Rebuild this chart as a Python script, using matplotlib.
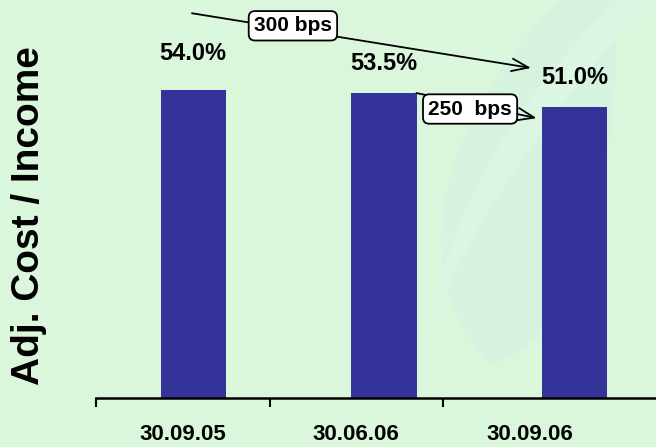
import numpy as np
import matplotlib
matplotlib.use("Agg")
import matplotlib.pyplot as plt
from matplotlib.patches import PathPatch
from matplotlib.path import Path

plt.rcParams['font.family'] = ['Liberation Sans', 'DejaVu Sans']
plt.rcParams['font.weight'] = 'bold'

# cost / income ratio per reporting date
dates = ["30.09.05", "30.06.06", "30.09.06"]
ratio = [54.0, 53.5, 51.0]
ratio_labels = ["54.0%", "53.5%", "51.0%"]
label_lift = [18, 13, 13]   # points above each bar

W, H = 656, 447
bg = "#daf7dc"
bar_col = "#333399"

fig = plt.figure(figsize=(W / 100, H / 100), dpi=100, facecolor=bg)


def px(x, y):
    # pixel position (from top-left) -> figure fraction
    return x / W, 1 - y / H


# faint leaf shape in the background
def leaf(points, codes, color):
    verts = [px(*p) for p in points]
    patch = PathPatch(Path(verts, codes), transform=fig.transFigure,
                      facecolor=color, edgecolor='none', zorder=-2)
    fig.patches.append(patch)


C = Path.CURVE4
leaf([(560, 0), (450, 110), (395, 260), (490, 365),
      (570, 340), (615, 230), (618, 0), (560, 0)],
     [Path.MOVETO, C, C, C, C, C, C, Path.CLOSEPOLY], "#d6f3e0")
leaf([(620, 0), (530, 80), (450, 200), (430, 330),
      (470, 220), (560, 100), (650, 0), (620, 0)],
     [Path.MOVETO, C, C, C, C, C, C, Path.CLOSEPOLY], "#dcf6e4")

ax = fig.add_axes([96 / W, 49 / H, 1 - 96 / W, 1 - 49 / H])
ax.set_facecolor('none')
ax.set_zorder(1)

xb = np.arange(len(dates)) * 1.1 + 0.06
bars = ax.bar(xb, ratio, width=0.375, color=bar_col, zorder=2)

for b, v, lab, lift in zip(bars, ratio, ratio_labels, label_lift):
    ax.annotate(lab, (b.get_x() + b.get_width() / 2, v),
                xytext=(0, lift), textcoords='offset points',
                ha='center', va='bottom', fontsize=17, fontweight='bold')

ax.set_xlim(-0.5, -0.5 + (W - 96) / 173.5)
ax.set_ylim(0, 398 / 5.7)

ax.set_xticks(range(len(dates)))
ax.set_xticklabels(dates, fontsize=16, fontweight='bold')
ax.set_xticks([-0.5, 0.5, 1.5], minor=True)
ax.tick_params(axis='x', which='major', length=0, pad=19)
ax.tick_params(axis='x', which='minor', length=6.5, width=1.5, direction='out')
ax.set_yticks([])
for s in ['top', 'right', 'left']:
    ax.spines[s].set_visible(False)
ax.spines['bottom'].set_linewidth(1.8)

box = dict(boxstyle='round,pad=0.25,rounding_size=0.3', fc='white',
           ec='black', lw=1.3)
arrow = dict(arrowstyle='->,head_length=1.2,head_width=0.45', lw=1.3,
             color='black', shrinkA=0, shrinkB=0)

# change over the year
ax.annotate("", xy=(2.007, 57.9), xytext=(0.053, 67.5), arrowprops=arrow)
ax.text(0.635, 65.3, "300 bps", ha='center', va='center', fontsize=15,
        fontweight='bold', bbox=box, zorder=5)

# change over the quarter
ax.annotate("", xy=(2.04, 49.1), xytext=(1.347, 53.5), arrowprops=arrow)
ax.text(1.656, 50.7, "250  bps", ha='center', va='center', fontsize=15,
        fontweight='bold', bbox=box, zorder=5)

fig.text(29 / W, 1 - 216 / H, "Adj. Cost / Income", rotation=90,
         ha='center', va='center', fontsize=28, fontweight='bold')

fig.savefig("out.png", dpi=100, facecolor=bg)
